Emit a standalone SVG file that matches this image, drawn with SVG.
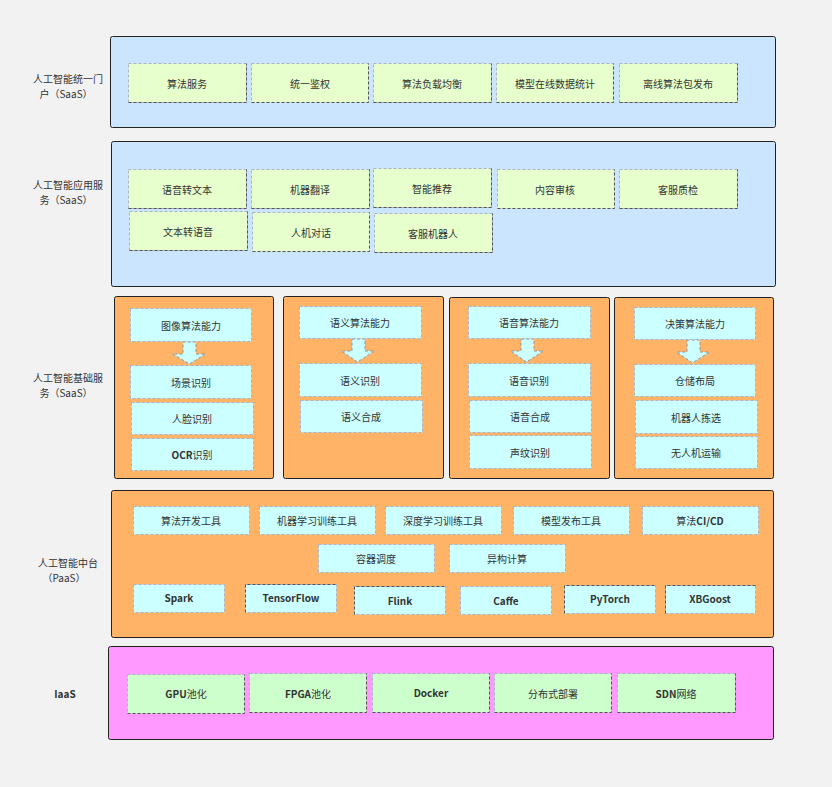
<svg xmlns="http://www.w3.org/2000/svg" width="832" height="787" viewBox="0 0 832 787">
<style>
text{font-family:"Noto Sans CJK SC","Liberation Sans",sans-serif;font-size:10px;fill:#333;text-anchor:middle;dominant-baseline:central}
.lt{font-weight:600}
.band{stroke:#222;stroke-width:1}
.blue{fill:#cce5ff}.org{fill:#ffb366}.pink{fill:#ff99ff}
.g{fill:#e6ffcc}.c{fill:#ccffff}.m{fill:#ccffcc}
.b{stroke:#a9b4c8;stroke-width:1;stroke-dasharray:3 2}
.d{fill:none;stroke:#555;stroke-width:1;stroke-dasharray:3 2}
.arr{fill:#ccffff;stroke:#8a9aa8;stroke-width:1;stroke-dasharray:3 2}
</style>
<rect width="832" height="787" fill="#f2f2f2"/>

<g id="layer-portal">
<rect class="band blue" x="110.5" y="36.5" width="665" height="91" rx="2"/>
<text x="68" y="78.5">人工智能统一门<tspan x="66" dy="14">户（SaaS）</tspan></text>
</g>
<g id="n-p1"><rect class="b g" x="128.5" y="63.5" width="118" height="39"/><path class="d" d="M128.5,102.5H246.5V63.5"/><text x="187" y="83">算法服务</text></g>
<g id="n-p2"><rect class="b g" x="251.5" y="63.5" width="117" height="39"/><path class="d" d="M251.5,102.5H368.5V63.5"/><text x="310" y="83">统一鉴权</text></g>
<g id="n-p3"><rect class="b g" x="373.5" y="63.5" width="118" height="39"/><path class="d" d="M373.5,102.5H491.5V63.5"/><text x="432" y="83">算法负载均衡</text></g>
<g id="n-p4"><rect class="b g" x="496.5" y="63.5" width="117" height="39"/><path class="d" d="M496.5,102.5H613.5V63.5"/><text x="555" y="83">模型在线数据统计</text></g>
<g id="n-p5"><rect class="b g" x="619.5" y="63.5" width="118" height="39"/><path class="d" d="M619.5,102.5H737.5V63.5"/><text x="678" y="83">离线算法包发布</text></g>

<g id="layer-app">
<rect class="band blue" x="111.5" y="141.5" width="664" height="145" rx="2"/>
<text x="68" y="184.5">人工智能应用服<tspan x="66" dy="14">务（SaaS）</tspan></text>
</g>
<g id="n-a1"><rect class="b g" x="128.5" y="169.5" width="118" height="39"/><path class="d" d="M128.5,208.5H246.5V169.5"/><text x="187" y="189">语音转文本</text></g>
<g id="n-a2"><rect class="b g" x="251.5" y="169.5" width="118" height="39"/><path class="d" d="M251.5,208.5H369.5V169.5"/><text x="310" y="189">机器翻译</text></g>
<g id="n-a3"><rect class="b g" x="373.5" y="168.5" width="118" height="39"/><path class="d" d="M373.5,207.5H491.5V168.5"/><text x="432" y="188">智能推荐</text></g>
<g id="n-a4"><rect class="b g" x="497.5" y="169.5" width="117" height="39"/><path class="d" d="M497.5,208.5H614.5V169.5"/><text x="555" y="189">内容审核</text></g>
<g id="n-a5"><rect class="b g" x="619.5" y="169.5" width="118" height="39"/><path class="d" d="M619.5,208.5H737.5V169.5"/><text x="678" y="189">客服质检</text></g>
<g id="n-a6"><rect class="b g" x="129.5" y="211.5" width="118" height="39"/><path class="d" d="M129.5,250.5H247.5V211.5"/><text x="188" y="231">文本转语音</text></g>
<g id="n-a7"><rect class="b g" x="252.5" y="212.5" width="117" height="39"/><path class="d" d="M252.5,251.5H369.5V212.5"/><text x="311" y="232">人机对话</text></g>
<g id="n-a8"><rect class="b g" x="374.5" y="213.5" width="118" height="39"/><path class="d" d="M374.5,252.5H492.5V213.5"/><text x="433" y="233">客服机器人</text></g>

<g id="layer-base">
<text x="68" y="377.5">人工智能基础服<tspan x="66" dy="14">务（SaaS）</tspan></text>
<rect class="band org" x="114.5" y="296.5" width="159" height="182" rx="2"/>
<rect class="band org" x="283.5" y="296.5" width="160" height="182" rx="2"/>
<rect class="band org" x="449.5" y="297.5" width="160" height="181" rx="2"/>
<rect class="band org" x="614.5" y="297.5" width="159" height="181" rx="2"/>
</g>
<g id="connectors">
<polygon class="arr" points="183,342 196,342 196,354 205.5,354 189.5,364 172.5,354 183,354"/>
<polygon class="arr" points="352,339 365,339 365,351 374.5,351 357.5,362 341.5,351 352,351"/>
<polygon class="arr" points="521,339 534,339 534,351 543.5,351 526.5,362 510.5,351 521,351"/>
<polygon class="arr" points="687,340 700,340 700,352 709.5,352 692.5,363 676.5,352 687,352"/>
</g>
<g id="n-b1"><rect class="b c" x="130.5" y="308.5" width="121" height="33"/><text x="191" y="325">图像算法能力</text></g>
<g id="n-b2"><rect class="b c" x="130.5" y="365.5" width="121" height="33"/><text x="191" y="382">场景识别</text></g>
<g id="n-b3"><rect class="b c" x="131.5" y="402.5" width="122" height="32"/><text x="192" y="418">人脸识别</text></g>
<g id="n-b4"><rect class="b c" x="131.5" y="438.5" width="122" height="32"/><text x="192" y="454"><tspan class="lt">OCR</tspan>识别</text></g>
<g id="n-b5"><rect class="b c" x="299.5" y="306.5" width="122" height="32"/><text x="360" y="322">语义算法能力</text></g>
<g id="n-b6"><rect class="b c" x="299.5" y="363.5" width="122" height="33"/><text x="360" y="380">语义识别</text></g>
<g id="n-b7"><rect class="b c" x="300.5" y="400.5" width="122" height="32"/><text x="361" y="416">语义合成</text></g>
<g id="n-b8"><rect class="b c" x="468.5" y="306.5" width="122" height="32"/><text x="529" y="322">语音算法能力</text></g>
<g id="n-b9"><rect class="b c" x="468.5" y="363.5" width="122" height="33"/><text x="529" y="380">语音识别</text></g>
<g id="n-b10"><rect class="b c" x="469.5" y="400.5" width="122" height="32"/><text x="530" y="416">语音合成</text></g>
<g id="n-b11"><rect class="b c" x="469.5" y="435.5" width="122" height="33"/><text x="530" y="452">声纹识别</text></g>
<g id="n-b12"><rect class="b c" x="634.5" y="307.5" width="121" height="32"/><text x="695" y="323">决策算法能力</text></g>
<g id="n-b13"><rect class="b c" x="634.5" y="364.5" width="121" height="32"/><text x="695" y="380">仓储布局</text></g>
<g id="n-b14"><rect class="b c" x="635.5" y="400.5" width="122" height="33"/><text x="696" y="417">机器人拣选</text></g>
<g id="n-b15"><rect class="b c" x="635.5" y="436.5" width="122" height="32"/><text x="696" y="452">无人机运输</text></g>

<g id="layer-paas">
<rect class="band org" x="111.5" y="490.5" width="662" height="147" rx="2"/>
<text x="68" y="562.5">人工智能中台<tspan x="64" dy="14">（PaaS）</tspan></text>
</g>
<g id="n-c1"><rect class="b c" x="133.5" y="506.5" width="116" height="28"/><text x="191" y="520">算法开发工具</text></g>
<g id="n-c2"><rect class="b c" x="259.5" y="506.5" width="116" height="28"/><text x="317" y="520">机器学习训练工具</text></g>
<g id="n-c3"><rect class="b c" x="385.5" y="506.5" width="116" height="28"/><text x="443" y="520">深度学习训练工具</text></g>
<g id="n-c4"><rect class="b c" x="513.5" y="506.5" width="116" height="28"/><text x="571" y="520">模型发布工具</text></g>
<g id="n-c5"><rect class="b c" x="642.5" y="506.5" width="116" height="28"/><text x="700" y="520">算法<tspan class="lt">CI/CD</tspan></text></g>
<g id="n-c6"><rect class="b c" x="318.5" y="544.5" width="116" height="28"/><text x="376" y="558">容器调度</text></g>
<g id="n-c7"><rect class="b c" x="449.5" y="544.5" width="116" height="28"/><text x="507" y="558">异构计算</text></g>
<g id="n-c8"><rect class="b c" x="133.5" y="584.5" width="91" height="28"/><text class="lt" x="179" y="597">Spark</text></g>
<g id="n-c9"><rect class="b c" x="245.5" y="584.5" width="91" height="28"/><path class="d" d="M245.5,612.5V584.5H336.5"/><text class="lt" x="291" y="597">TensorFlow</text></g>
<g id="n-c10"><rect class="b c" x="354.5" y="586.5" width="91" height="28"/><path class="d" d="M354.5,614.5V586.5H445.5"/><text class="lt" x="400" y="600">Flink</text></g>
<g id="n-c11"><rect class="b c" x="460.5" y="586.5" width="91" height="28"/><text class="lt" x="506" y="600">Caffe</text></g>
<g id="n-c12"><rect class="b c" x="564.5" y="585.5" width="91" height="28"/><path class="d" d="M564.5,613.5V585.5H655.5"/><text class="lt" x="610" y="598">PyTorch</text></g>
<g id="n-c13"><rect class="b c" x="665.5" y="585.5" width="90" height="28"/><path class="d" d="M665.5,613.5V585.5H755.5"/><text class="lt" x="710" y="598">XBGoost</text></g>

<g id="layer-iaas">
<rect class="band pink" x="108.5" y="646.5" width="665" height="93" rx="2"/>
<text class="lt" x="65" y="693">IaaS</text>
</g>
<g id="n-i1"><rect class="b m" x="127.5" y="674.5" width="117" height="39"/><path class="d" d="M127.5,713.5H244.5V674.5"/><text x="186" y="693"><tspan class="lt">GPU</tspan>池化</text></g>
<g id="n-i2"><rect class="b m" x="249.5" y="673.5" width="117" height="39"/><path class="d" d="M249.5,712.5H366.5V673.5"/><text x="308" y="693"><tspan class="lt">FPGA</tspan>池化</text></g>
<g id="n-i3"><rect class="b m" x="372.5" y="673.5" width="117" height="39"/><path class="d" d="M372.5,712.5H489.5V673.5"/><text class="lt" x="431" y="692">Docker</text></g>
<g id="n-i4"><rect class="b m" x="494.5" y="673.5" width="117" height="39"/><path class="d" d="M494.5,712.5H611.5V673.5"/><text x="553" y="693">分布式部署</text></g>
<g id="n-i5"><rect class="b m" x="617.5" y="673.5" width="118" height="39"/><path class="d" d="M617.5,712.5H735.5V673.5"/><text x="676" y="693"><tspan class="lt">SDN</tspan>网络</text></g>
</svg>
